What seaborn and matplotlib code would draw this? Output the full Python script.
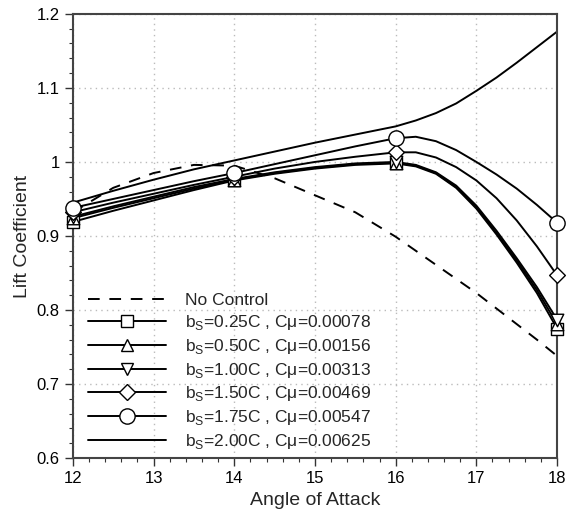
import numpy as np
import pandas as pd
import matplotlib
matplotlib.use("Agg")
import matplotlib.pyplot as plt
from matplotlib.lines import Line2D
from matplotlib.ticker import MultipleLocator, FuncFormatter
import seaborn as sns

# Data
angle = [12, 12.5, 13, 13.5, 14, 14.5, 15, 15.5, 16, 16.25, 16.5, 16.75, 17, 17.25, 17.5, 17.75, 18]
marker_angles = [12, 14, 16, 18]

no_control = [0.932, 0.965, 0.985, 0.996, 0.995, 0.978, 0.955, 0.932, 0.899, 0.880, 0.861, 0.842, 0.823, 0.802, 0.781, 0.760, 0.738]
bs_025 = [0.919, 0.934, 0.948, 0.962, 0.975, 0.984, 0.991, 0.996, 0.998, 0.994, 0.984, 0.965, 0.937, 0.902, 0.864, 0.823, 0.775]
bs_050 = [0.924, 0.938, 0.951, 0.964, 0.976, 0.985, 0.992, 0.997, 0.999, 0.995, 0.985, 0.966, 0.939, 0.904, 0.867, 0.827, 0.781]
bs_100 = [0.926, 0.940, 0.953, 0.966, 0.977, 0.986, 0.993, 0.998, 1.000, 0.996, 0.986, 0.968, 0.941, 0.907, 0.870, 0.831, 0.787]
bs_150 = [0.932, 0.945, 0.957, 0.969, 0.980, 0.991, 1.000, 1.007, 1.013, 1.013, 1.006, 0.993, 0.975, 0.951, 0.921, 0.886, 0.847]
bs_175 = [0.938, 0.950, 0.962, 0.974, 0.985, 0.997, 1.009, 1.021, 1.032, 1.034, 1.028, 1.016, 1.000, 0.983, 0.964, 0.942, 0.918]
bs_200 = [0.945, 0.961, 0.976, 0.990, 1.002, 1.014, 1.026, 1.037, 1.048, 1.056, 1.066, 1.079, 1.096, 1.114, 1.134, 1.155, 1.176]

labels = [
    "No Control",
    r"b$_\mathregular{S}$=0.25C , Cμ=0.00078",
    r"b$_\mathregular{S}$=0.50C , Cμ=0.00156",
    r"b$_\mathregular{S}$=1.00C , Cμ=0.00313",
    r"b$_\mathregular{S}$=1.50C , Cμ=0.00469",
    r"b$_\mathregular{S}$=1.75C , Cμ=0.00547",
    r"b$_\mathregular{S}$=2.00C , Cμ=0.00625",
]
series = [no_control, bs_025, bs_050, bs_100, bs_150, bs_175, bs_200]
markers = [None, "s", "^", "v", "D", "o", None]
msizes = [0, 8, 9, 9, 8, 11, 0]

sns.set_style("white")
plt.rcParams["font.family"] = ["Liberation Sans", "DejaVu Sans"]
plt.rcParams["mathtext.fontset"] = "custom"
plt.rcParams["mathtext.rm"] = "Liberation Sans"

fig, ax = plt.subplots(figsize=(5.69, 5.13), dpi=100)
fig.subplots_adjust(left=0.128, right=0.979, top=0.973, bottom=0.107)

LW = 1.4
handles = []
for vals, lab, mk, ms in zip(series, labels, markers, msizes):
    df = pd.DataFrame({"angle": angle, "cl": vals})
    ls = (0, (6, 5)) if lab == "No Control" else "-"
    sns.lineplot(data=df, x="angle", y="cl", ax=ax, color="black", lw=LW,
                 linestyle=ls, legend=False, zorder=2)
    if mk is not None:
        pts = df[df["angle"].isin(marker_angles)]
        sc = sns.scatterplot(data=pts, x="angle", y="cl", ax=ax, marker=mk, s=ms ** 2,
                             facecolor="white", edgecolor="black", linewidth=1.0,
                             legend=False, zorder=3)
        ax.collections[-1].set_clip_on(False)
    handles.append(Line2D([], [], color="black", lw=LW, linestyle=ls,
                          marker=mk, markersize=ms, markerfacecolor="white",
                          markeredgecolor="black", markeredgewidth=1.0))

ax.set_xlim(12, 18)
ax.set_ylim(0.6, 1.2)
ax.xaxis.set_major_locator(MultipleLocator(1))
ax.xaxis.set_minor_locator(MultipleLocator(0.2))
ax.yaxis.set_major_locator(MultipleLocator(0.1))
ax.yaxis.set_minor_locator(MultipleLocator(0.02))
ax.yaxis.set_major_formatter(FuncFormatter(lambda v, p: "%g" % round(v, 2)))
ax.tick_params(which="major", direction="out", length=6, width=1.0,
               labelsize=12, colors="#333333", labelcolor="black",
               bottom=True, left=True, top=False, right=False)
ax.tick_params(which="minor", direction="out", length=3, width=0.8,
               colors="#333333", bottom=True, left=True, top=False, right=False)
ax.grid(True, which="major", linestyle=(0, (1, 3)), color="#bbbbbb", lw=1.0)
for sp in ax.spines.values():
    sp.set_color("#444444")
    sp.set_linewidth(1.5)

ax.set_xlabel("Angle of Attack", fontsize=14)
ax.set_ylabel("Lift Coefficient", fontsize=14)

ax.legend(handles, labels, loc="upper left", bbox_to_anchor=(0.031, 0.372),
          frameon=False, fontsize=12.5, handlelength=4.5, handletextpad=1.1,
          labelspacing=0.28, borderpad=0, borderaxespad=0)

plt.savefig("out.png", dpi=100)
